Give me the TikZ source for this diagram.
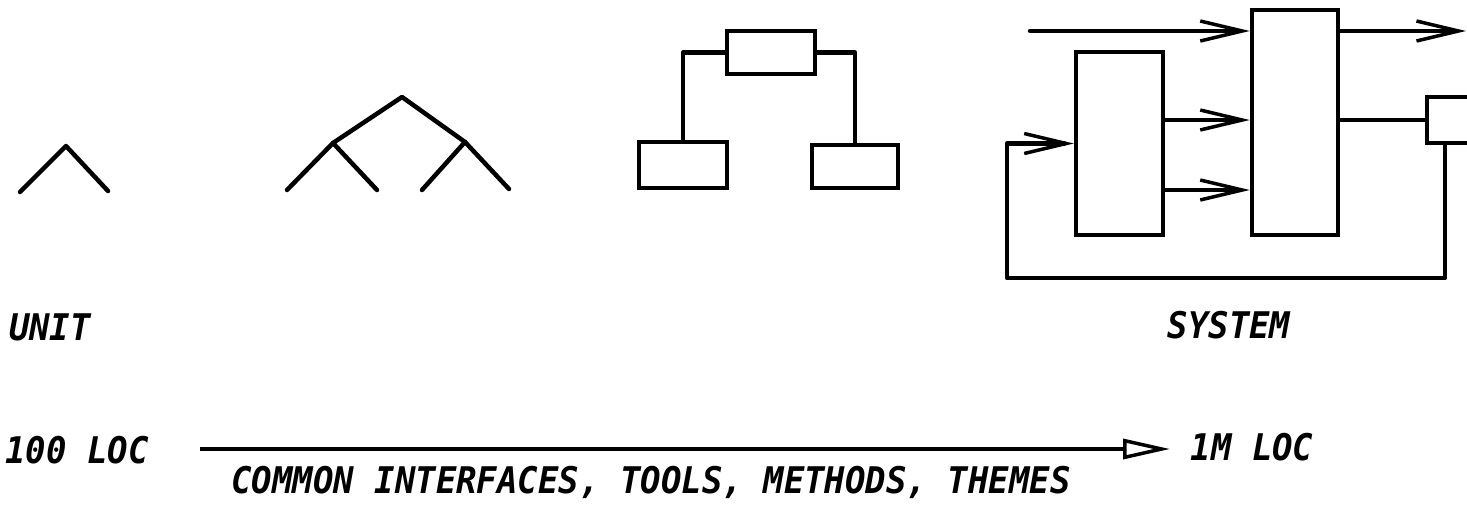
\documentclass[tikz,border=0pt]{standalone}
\usepackage{fontspec}
\newfontfamily\dotfont{DejaVu Sans Mono}
\usetikzlibrary{arrows.meta}
\tikzset{
  ln/.style={line width=4.5pt, line cap=round, line join=round},
  blk/.style={draw, line width=4.5pt, minimum width=#1, inner sep=0pt},
  vee/.style={ln, -{Straight Barb[length=42pt,width=20pt,line width=3.5pt]}},
  tri/.style={line width=4.5pt, -{Triangle[open,length=47pt,width=20pt,line width=3.5pt]}},
  lbl/.style={inner sep=0pt, anchor=base, yscale=1.08, font=\dotfont\bfseries\itshape\fontsize{34}{36}\selectfont}
}
\begin{document}
\begin{tikzpicture}[x=1pt,y=-1pt]
\clip (0,0) rectangle (1467,504);
\fill[white] (0,0) rectangle (1467,504);
% unit
\coordinate (u0) at (66,146);
\coordinate (u1) at (20,192);
\coordinate (u2) at (108,191);
\draw[ln] (u1) -- (u0) -- (u2);
% tree
\coordinate (t0) at (402,97);
\coordinate (tl) at (333,143);
\coordinate (tr) at (465,142);
\coordinate (tll) at (287,190);
\coordinate (tlr) at (377,190);
\coordinate (trl) at (422,190);
\coordinate (trr) at (509,189);
\draw[ln] (tll) -- (tl) -- (t0) -- (tr) -- (trr);
\draw[ln] (tl) -- (tlr);
\draw[ln] (tr) -- (trl);
% hierarchy
\node[blk=88pt, minimum height=43pt] (h0) at (771,52.5) {};
\node[blk=88pt, minimum height=46pt] (h1) at (683,165) {};
\node[blk=86pt, minimum height=43pt] (h2) at (855,166.5) {};
\draw[ln] (h0.west) -| (h1.north);
\draw[ln] (h0.east) -| (h2.north);
% system
\node[blk=87pt, minimum height=183pt] (A) at (1119.5,143.5) {};
\node[blk=86pt, minimum height=225pt] (B) at (1295,122.5) {};
\node[blk=60pt, minimum height=46pt] (C) at (1457,120) {};
\coordinate (in) at (1030,31);
\coordinate (out) at (1466,31);
\coordinate (fb) at (1007,278);
\draw[vee] (in) -- (in -| B.west);
\draw[vee] (B.east |- out) -- (out);
\draw[vee] (A.east |- 0,120) -- (B.west |- 0,120);
\draw[vee] (A.east |- 0,190) -- (B.west |- 0,190);
\draw[ln] (B.east |- C.west) -- (C.west);
\draw[vee] ([xshift=-12pt]C.south) |- (fb) |- (A.west);
% labels
\node[lbl] (unit) at (50,340) {UNIT};
\node[lbl] (sys) at (1229,338) {SYSTEM};
\node[lbl] (loc1) at (77,463) {100 LOC};
\node[lbl] (loc2) at (1252,460) {1M LOC};
\node[lbl] (common) at (651,493) {COMMON INTERFACES, TOOLS, METHODS, THEMES};
\coordinate (ax0) at (200,449);
\coordinate (ax1) at (1170,449);
\draw[tri] (ax0) -- (ax1);
\end{tikzpicture}
\end{document}
